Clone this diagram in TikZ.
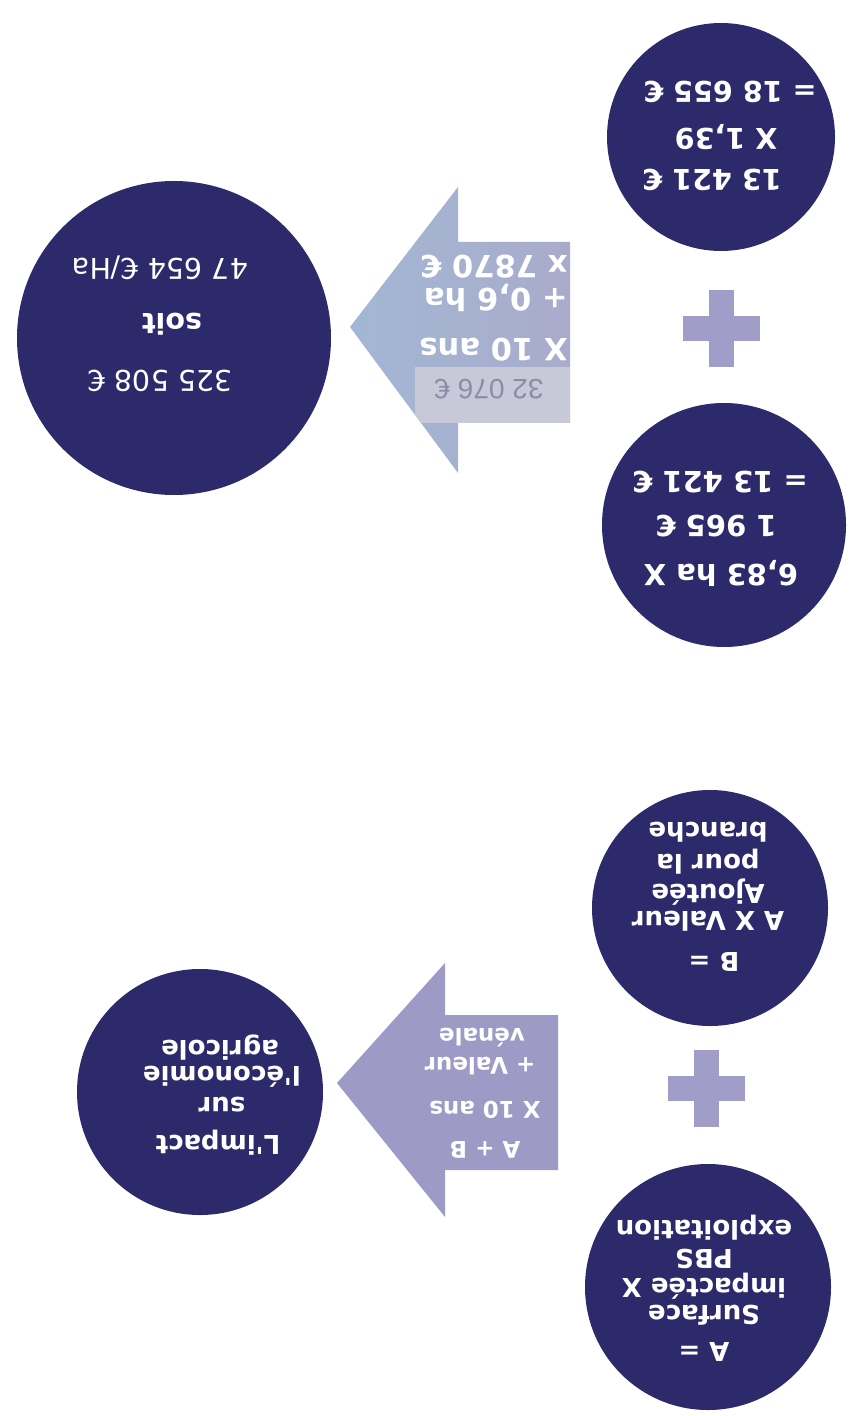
\documentclass[tikz,border=0pt]{standalone}
\usepackage{fontspec}
\newfontfamily\sansfam{DejaVu Sans}
\newfontfamily\libfam{Liberation Sans}
\definecolor{navy}{HTML}{2D2A6C}
\definecolor{plusc}{HTML}{A19DC9}
\definecolor{arrowp}{HTML}{9E9AC6}
\definecolor{headb}{HTML}{A2B7D4}
\definecolor{bodyb}{HTML}{AAABCB}
\definecolor{boxc}{HTML}{C8C9D8}
\definecolor{boxt}{HTML}{8B8CA6}
\begin{document}
\begin{tikzpicture}[x=0.5pt,y=-0.5pt,
  circ/.style={circle, fill=navy, inner sep=0pt},
  txt/.style={rotate=180, text=white, inner sep=0pt, anchor=center},
  sanstxt/.style={txt, font=\sansfam\bfseries\fontsize{#1}{#1}\selectfont},
  sanstxt/.default=13,
  booktxt/.style={txt, font=\sansfam\fontsize{#1}{#1}\selectfont}]
\useasboundingbox (0,0) rectangle (848,1416);
\fill[white] (0,0) rectangle (848,1416);

% ---------- upper half ----------
\node[circ, minimum size=114pt] (c1) at (721,137) {};
\node[sanstxt=14.3] (c1a) at (712,180) {13 421 €};
\node[sanstxt=14.3] (c1b) at (726,137) {X 1,39};
\node[sanstxt=14.3] (c1c) at (730,92) {= 18 655 €};

\fill[plusc] (682.5,316.5) rectangle (759.5,341.5);
\fill[plusc] (708.5,290.5) rectangle (733.5,367.5);

\node[circ, minimum size=122pt] (c2) at (724,525) {};
\node[sanstxt=14.5] (c2a) at (721,573) {6,83 ha X};
\node[sanstxt=14.5] (c2b) at (716,526) {1 965 €};
\node[sanstxt=14.5] (c2c) at (720,482) {= 13 421 €};

% arrow 1
\path[left color=headb, right color=bodyb]
  (350,327) -- (458,187) -- (458,242) -- (570,242) -- (570,423) -- (458,423) -- (458,473) -- cycle;
\begin{scope}
  \clip (350,327) -- (458,187) -- (458,242) -- (570,242) -- (570,423) -- (458,423) -- (458,473) -- cycle;
  \fill[boxc] (415,367) rectangle (570,423);
\end{scope}
\node[txt, text=boxt, font=\libfam\fontsize{14}{14}\selectfont] (a1d) at (489,389) {32 076 €};
\node[sanstxt=15.3, anchor=west] (a1a) at (568,350) {X 10 ans};
\node[sanstxt=15.3, anchor=west] (a1b) at (568,298) {+ 0,6 ha};
\node[sanstxt=15.3, anchor=west] (a1c) at (568,267) {x 7870 €};

\node[circ, minimum size=157pt] (c3) at (174,338) {};
\node[booktxt=14.3] (c3a) at (160,381) {325 508 €};
\node[sanstxt=14.3] (c3b) at (172,324) {soit};
\node[booktxt=14.3] (c3c) at (160,268) {47 654 €/Ha};

% ---------- lower half ----------
\node[circ, minimum size=118pt] (c5) at (710,908) {};
\node[sanstxt] (c5a) at (714,962) {B =};
\node[sanstxt] (c5b) at (708,921) {A X Valeur};
\node[sanstxt] (c5c) at (708,892) {Ajoutée};
\node[sanstxt] (c5d) at (708,862) {pour la};
\node[sanstxt] (c5e) at (708,832) {branche};

\fill[plusc] (667.5,1075.5) rectangle (744.5,1100.5);
\fill[plusc] (693.5,1049.5) rectangle (718.5,1126.5);

\node[circ, minimum size=123pt] (c4) at (708,1287) {};
\node[sanstxt] (c4a) at (704,1352) {A =};
\node[sanstxt] (c4b) at (704,1315) {Surface};
\node[sanstxt] (c4c) at (704,1286) {impactée X};
\node[sanstxt] (c4d) at (704,1259) {PBS};
\node[sanstxt] (c4e) at (704,1228) {exploitation};

% arrow 2
\fill[arrowp] (337,1083) -- (445,963) -- (445,1015) -- (558,1015) -- (558,1170) -- (445,1170) -- (445,1217) -- cycle;
\node[sanstxt=11.5] (a2a) at (485,1150) {A + B};
\node[sanstxt=11.5] (a2b) at (485,1110) {X 10 ans};
\node[sanstxt=11.5] (a2c) at (480,1066) {+ Valeur};
\node[sanstxt=11.5] (a2d) at (482,1038) {vénale};

\node[circ, minimum size=123pt] (c6) at (200,1092) {};
\node[sanstxt=13] (c6a) at (218,1143) {L'impact};
\node[sanstxt=13] (c6b) at (222,1105) {sur};
\node[sanstxt=13] (c6c) at (222,1077) {l'économie};
\node[sanstxt=13] (c6d) at (220,1048) {agricole};
\end{tikzpicture}
\end{document}
